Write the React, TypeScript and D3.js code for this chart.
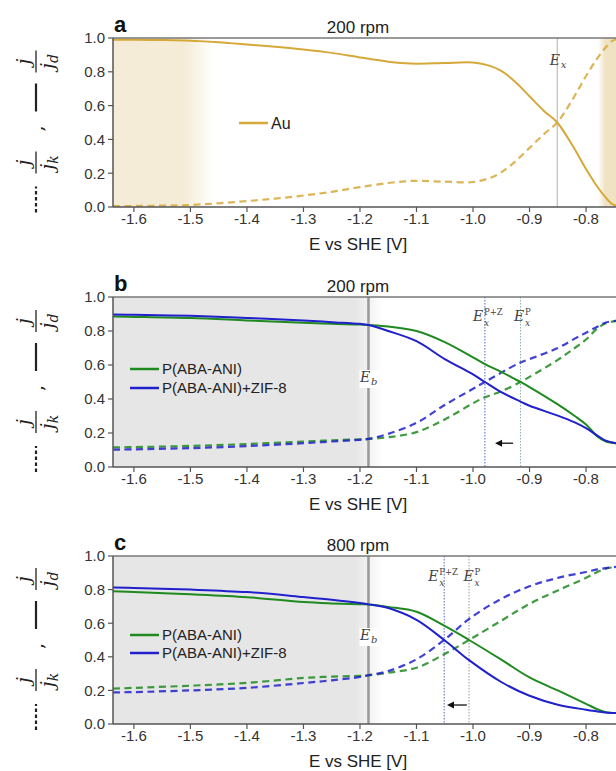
import React, { useEffect, useRef } from 'react';
import * as d3 from 'd3';

// tick values
const xTicks = [-1.6, -1.5, -1.4, -1.3, -1.2, -1.1, -1.0, -0.9, -0.8];
const yTicks = [0, 0.2, 0.4, 0.6, 0.8, 1.0];

// panel a : Au, 200 rpm
const auE = [-1.637, -1.6, -1.55, -1.5, -1.45, -1.4, -1.35, -1.3, -1.25, -1.2, -1.15, -1.12, -1.1, -1.05, -1.0, -0.97, -0.95, -0.925, -0.9, -0.875, -0.851, -0.825, -0.8, -0.78, -0.765, -0.755, -0.747];
const auSolid = [0.99, 0.99, 0.988, 0.984, 0.975, 0.962, 0.948, 0.932, 0.912, 0.885, 0.86, 0.85, 0.848, 0.852, 0.855, 0.835, 0.805, 0.74, 0.655, 0.57, 0.5, 0.37, 0.225, 0.12, 0.055, 0.02, 0.008];
const auDashed = [0.005, 0.006, 0.008, 0.012, 0.022, 0.035, 0.05, 0.068, 0.09, 0.118, 0.142, 0.152, 0.155, 0.15, 0.148, 0.172, 0.205, 0.27, 0.35, 0.43, 0.5, 0.63, 0.775, 0.88, 0.945, 0.98, 0.993];

// panel b : 200 rpm
const bE = [-1.637, -1.6, -1.5, -1.4, -1.3, -1.25, -1.2, -1.185, -1.15, -1.1, -1.05, -1.0, -0.979, -0.95, -0.916, -0.9, -0.85, -0.82, -0.8, -0.78, -0.765, -0.747];
const bGreenSolid = [0.885, 0.883, 0.876, 0.862, 0.848, 0.842, 0.838, 0.835, 0.826, 0.8, 0.735, 0.645, 0.605, 0.56, 0.5, 0.47, 0.368, 0.3, 0.25, 0.18, 0.15, 0.14];
const bBlueSolid = [0.897, 0.895, 0.889, 0.877, 0.862, 0.852, 0.842, 0.835, 0.8, 0.74, 0.635, 0.545, 0.5, 0.44, 0.385, 0.36, 0.302, 0.262, 0.228, 0.185, 0.155, 0.14];
const bGreenDashed = [0.115, 0.117, 0.124, 0.135, 0.15, 0.157, 0.163, 0.165, 0.175, 0.205, 0.28, 0.375, 0.41, 0.445, 0.5, 0.53, 0.63, 0.7, 0.75, 0.815, 0.845, 0.86];
const bBlueDashed = [0.102, 0.104, 0.111, 0.123, 0.14, 0.15, 0.16, 0.165, 0.195, 0.26, 0.365, 0.46, 0.5, 0.555, 0.615, 0.635, 0.7, 0.755, 0.79, 0.825, 0.85, 0.86];

// panel c : 800 rpm
const cE = [-1.637, -1.6, -1.5, -1.4, -1.3, -1.25, -1.2, -1.185, -1.15, -1.1, -1.051, -1.007, -0.95, -0.9, -0.85, -0.8, -0.78, -0.765, -0.747];
const cGreenSolid = [0.79, 0.785, 0.772, 0.755, 0.726, 0.718, 0.713, 0.712, 0.697, 0.668, 0.585, 0.5, 0.383, 0.277, 0.2, 0.12, 0.088, 0.07, 0.065];
const cBlueSolid = [0.812, 0.81, 0.8, 0.785, 0.756, 0.74, 0.72, 0.712, 0.69, 0.62, 0.5, 0.38, 0.25, 0.168, 0.115, 0.085, 0.075, 0.068, 0.065];
const cGreenDashed = [0.21, 0.215, 0.228, 0.245, 0.274, 0.282, 0.287, 0.29, 0.305, 0.335, 0.415, 0.5, 0.615, 0.715, 0.795, 0.87, 0.905, 0.925, 0.935];
const cBlueDashed = [0.188, 0.19, 0.2, 0.215, 0.244, 0.26, 0.28, 0.29, 0.315, 0.385, 0.5, 0.625, 0.745, 0.82, 0.87, 0.905, 0.92, 0.928, 0.935];

// marker potentials
const aEx = -0.851;
const bEb = -1.185, bExPZ = -0.979, bExP = -0.916, bArrow = [-0.929, -0.961, 0.14];
const cEb = -1.185, cExPZ = -1.051, cExP = -1.007, cArrow = [-1.011, -1.046, 0.113];

const GOLD = '#d6a83a';
const GREEN = '#1f8a1f';
const BLUE = '#2020cc';
const SANS = '"Liberation Sans", Arial, sans-serif';
const SERIF = '"DejaVu Serif", serif';

const App = () => {
  const svgRef = useRef<SVGSVGElement>(null);

  useEffect(() => {
    const svg = d3.select(svgRef.current);
    svg.selectAll('*').remove();

    const left = 113, right = 616;
    const x = d3.scaleLinear().domain([-1.637, -0.747]).range([left, right]);

    const defs = svg.append('defs');
    const grad = (id: string, stops: [number, string, number][]) => {
      const g = defs.append('linearGradient').attr('id', id).attr('x1', 0).attr('x2', 1).attr('y1', 0).attr('y2', 0);
      stops.forEach(s => g.append('stop').attr('offset', s[0]).attr('stop-color', s[1]).attr('stop-opacity', s[2]));
    };
    grad('beigeL', [[0, '#f5ecd8', 1], [0.72, '#f5ecd8', 1], [1, '#f5ecd8', 0]]);
    grad('beigeR', [[0, '#f0e3c4', 0], [0.4, '#f0e3c4', 1], [1, '#f0e3c4', 1]]);
    grad('grayL', [[0, '#e6e6e6', 1], [0.9, '#e6e6e6', 1], [1, '#e6e6e6', 0]]);

    // E label with subscript and optional superscript, as separate text pieces
    const mathE = (g: any, cx: number, cy: number, sub: string, sup?: string) => {
      const supW = sup ? sup.length * 5.6 : 0;
      const w = 11 + Math.max(supW, 6);
      const x0 = cx - w / 2;
      const txt = (tx: number, ty: number, s: string, size: number, italic: boolean) =>
        g.append('text').attr('x', tx).attr('y', ty)
          .style('font-family', SERIF).style('font-size', `${size}px`)
          .style('font-style', italic ? 'italic' : 'normal').style('fill', '#444').text(s);
      txt(x0, cy, 'E', 14, true);
      if (sup) {
        txt(x0 + 11, cy - 6, sup, 8.5, false);
        txt(x0 + 11, cy + 5, sub, 9, true);
      } else {
        txt(x0 + 11, cy + 3, sub, 10, true);
      }
    };

    const drawPanel = (cfg: any) => {
      const { top, bottom } = cfg;
      const y = d3.scaleLinear().domain([0, 1]).range([bottom, top]);
      const g = svg.append('g');

      // shading
      if (cfg.kind === 'au') {
        g.append('rect').attr('x', left).attr('y', top).attr('width', x(-1.46) - left).attr('height', bottom - top).attr('fill', 'url(#beigeL)');
        g.append('rect').attr('x', 598).attr('y', top).attr('width', right - 598).attr('height', bottom - top).attr('fill', 'url(#beigeR)');
      } else {
        g.append('rect').attr('x', left).attr('y', top).attr('width', x(cfg.eb + 0.025) - left).attr('height', bottom - top).attr('fill', 'url(#grayL)');
      }

      // vertical marker lines
      cfg.vlines.forEach((v: any) => {
        g.append('line').attr('x1', x(v.e)).attr('x2', x(v.e)).attr('y1', top).attr('y2', bottom)
          .attr('stroke', v.color).attr('stroke-width', v.w).attr('stroke-dasharray', v.dash || null);
      });

      // data lines
      const clipId = 'clip' + cfg.letter;
      defs.append('clipPath').attr('id', clipId).append('rect')
        .attr('x', left).attr('y', top).attr('width', right - left).attr('height', bottom - top);
      const lines = g.append('g').attr('clip-path', `url(#${clipId})`);
      cfg.series.forEach((s: any) => {
        const line = d3.line<number>().x((_, i) => x(s.e[i])).y(d => y(d)).curve(d3.curveCatmullRom.alpha(0.5));
        lines.append('path').attr('d', line(s.values)).attr('fill', 'none')
          .attr('stroke', s.color).attr('stroke-width', s.dashed ? 2.2 : 2)
          .attr('stroke-dasharray', s.dashed ? '7,4.5' : null)
          .attr('opacity', s.dashed ? 0.85 : 1);
      });

      // marker labels
      cfg.labels.forEach((l: any) => {
        if (l.box) {
          g.append('rect').attr('x', x(l.e) - 9).attr('y', y(l.v) - 12).attr('width', 19).attr('height', 18).attr('fill', 'white');
        }
        mathE(g, x(l.e) + (l.dx || 0), y(l.v), l.sub, l.sup);
      });

      // arrow
      if (cfg.arrow) {
        const [a0, a1, av] = cfg.arrow;
        const ay = y(av);
        g.append('line').attr('x1', x(a0)).attr('x2', x(a1) + 5).attr('y1', ay).attr('y2', ay).attr('stroke', '#111').attr('stroke-width', 1.3);
        g.append('path').attr('d', `M${x(a1)},${ay} l7,-3.5 l0,7 z`).attr('fill', '#111');
      }

      // spines
      const spine = '#555';
      g.append('line').attr('x1', left).attr('x2', right).attr('y1', top).attr('y2', top).attr('stroke', '#777').attr('stroke-width', 1.5);
      g.append('line').attr('x1', left).attr('x2', right).attr('y1', bottom).attr('y2', bottom).attr('stroke', spine).attr('stroke-width', 1.5);
      g.append('line').attr('x1', left).attr('x2', left).attr('y1', top).attr('y2', bottom).attr('stroke', spine).attr('stroke-width', 1.5);

      // x ticks
      xTicks.forEach(t => {
        g.append('line').attr('x1', x(t)).attr('x2', x(t)).attr('y1', bottom).attr('y2', bottom + 5).attr('stroke', spine).attr('stroke-width', 1.2);
        g.append('text').attr('x', x(t)).attr('y', bottom + 17).attr('text-anchor', 'middle')
          .style('font-family', SANS).style('font-size', '15px').style('fill', '#333').text(t.toFixed(1));
      });
      // y ticks
      yTicks.forEach(t => {
        g.append('line').attr('x1', left - 5).attr('x2', left).attr('y1', y(t)).attr('y2', y(t)).attr('stroke', spine).attr('stroke-width', 1.2);
        g.append('text').attr('x', left - 8).attr('y', y(t)).attr('dy', '0.36em').attr('text-anchor', 'end')
          .style('font-family', SANS).style('font-size', '15px').style('fill', '#333').text(t.toFixed(1));
      });

      // x axis label, title, letter
      g.append('text').attr('x', 358).attr('y', bottom + 43).attr('text-anchor', 'middle')
        .style('font-family', SANS).style('font-size', '17px').style('fill', '#222').text('E vs SHE [V]');
      g.append('text').attr('x', 358).attr('y', top - 5).attr('text-anchor', 'middle')
        .style('font-family', SANS).style('font-size', '17px').style('fill', '#222').text(cfg.title);
      g.append('text').attr('x', 114).attr('y', top - 6)
        .style('font-family', SANS).style('font-size', '22px').style('font-weight', 'bold').style('fill', '#111').text(cfg.letter);

      // y axis label (rotated math)
      const yl = g.append('g').attr('transform', `translate(36,${(top + bottom) / 2 + 4}) rotate(-90)`);
      const frac = (u: number, subTxt: string) => {
        yl.append('text').attr('x', u).attr('y', -6).attr('text-anchor', 'middle')
          .style('font-family', SERIF).style('font-style', 'italic').style('font-size', '19px').style('fill', '#222').text('j');
        yl.append('line').attr('x1', u - 11).attr('x2', u + 11).attr('y1', 0).attr('y2', 0).attr('stroke', '#222').attr('stroke-width', 1.3);
        const d = yl.append('text').attr('x', u).attr('y', 18).attr('text-anchor', 'middle')
          .style('font-family', SERIF).style('font-style', 'italic').style('font-size', '19px').style('fill', '#222');
        d.append('tspan').text('j');
        d.append('tspan').attr('dy', 4).style('font-size', '14px').text(subTxt);
      };
      yl.append('line').attr('x1', -86).attr('x2', -60).attr('y1', 0).attr('y2', 0).attr('stroke', '#222').attr('stroke-width', 2.2).attr('stroke-dasharray', '3.5,2.5');
      frac(-36, 'k');
      yl.append('text').attr('x', -2).attr('y', 7).attr('text-anchor', 'middle')
        .style('font-family', SERIF).style('font-size', '19px').style('fill', '#222').text(',');
      yl.append('line').attr('x1', 15).attr('x2', 43).attr('y1', 0).attr('y2', 0).attr('stroke', '#222').attr('stroke-width', 2.2);
      frac(65, 'd');

      // legend
      cfg.legend.forEach((l: any) => {
        g.append('line').attr('x1', l.x).attr('x2', l.x + 29).attr('y1', l.y).attr('y2', l.y).attr('stroke', l.color).attr('stroke-width', 2.5);
        g.append('text').attr('x', l.x + 32).attr('y', l.y).attr('dy', '0.36em')
          .style('font-family', SANS).style('font-size', l.size).style('fill', '#222').text(l.text);
      });
    };

    drawPanel({
      kind: 'au', letter: 'a', title: '200 rpm', top: 38, bottom: 207,
      series: [
        { e: auE, values: auSolid, color: GOLD, dashed: false },
        { e: auE, values: auDashed, color: GOLD, dashed: true },
      ],
      vlines: [{ e: aEx, color: '#b5b19c', w: 1 }],
      labels: [{ e: aEx, v: 0.84, sub: 'x', dx: 1 }],
      legend: [{ x: 239, y: 123, color: GOLD, text: 'Au', size: '16px' }],
    });

    const pair = (e: number[], gs: number[], bs: number[], gd: number[], bd: number[]) => [
      { e, values: gd, color: GREEN, dashed: true },
      { e, values: bd, color: BLUE, dashed: true },
      { e, values: gs, color: GREEN, dashed: false },
      { e, values: bs, color: BLUE, dashed: false },
    ];

    drawPanel({
      kind: 'poly', letter: 'b', title: '200 rpm', top: 297, bottom: 467, eb: bEb,
      series: pair(bE, bGreenSolid, bBlueSolid, bGreenDashed, bBlueDashed),
      vlines: [
        { e: bEb, color: '#999', w: 2.5 },
        { e: bExPZ, color: '#5566c4', w: 1, dash: '1.5,1.5' },
        { e: bExP, color: '#8cb4a8', w: 1, dash: '1.5,1.5' },
      ],
      labels: [
        { e: bEb, v: 0.5, sub: 'b', box: true },
        { e: bExPZ, v: 0.86, sub: 'x', sup: 'P+Z', dx: 2 },
        { e: bExP, v: 0.86, sub: 'x', sup: 'P', dx: 2 },
      ],
      arrow: bArrow,
      legend: [
        { x: 130, y: 369, color: GREEN, text: 'P(ABA-ANI)', size: '15px' },
        { x: 130, y: 388, color: BLUE, text: 'P(ABA-ANI)+ZIF-8', size: '15px' },
      ],
    });

    drawPanel({
      kind: 'poly', letter: 'c', title: '800 rpm', top: 556, bottom: 724, eb: cEb,
      series: pair(cE, cGreenSolid, cBlueSolid, cGreenDashed, cBlueDashed),
      vlines: [
        { e: cEb, color: '#999', w: 2.5 },
        { e: cExPZ, color: '#5566c4', w: 1, dash: '1.5,1.5' },
        { e: cExP, color: '#999', w: 1, dash: '1.5,1.5' },
      ],
      labels: [
        { e: cEb, v: 0.5, sub: 'b', box: true },
        { e: cExPZ, v: 0.85, sub: 'x', sup: 'P+Z', dx: -2 },
        { e: cExP, v: 0.85, sub: 'x', sup: 'P', dx: 3 },
      ],
      arrow: cArrow,
      legend: [
        { x: 130, y: 635, color: GREEN, text: 'P(ABA-ANI)', size: '15px' },
        { x: 130, y: 653, color: BLUE, text: 'P(ABA-ANI)+ZIF-8', size: '15px' },
      ],
    });
  }, []);

  return (
    <svg
      ref={svgRef}
      width={616}
      height={771}
      style={{ position: 'absolute', left: 0, top: 0, background: 'white' }}
    />
  );
};

export default App;
